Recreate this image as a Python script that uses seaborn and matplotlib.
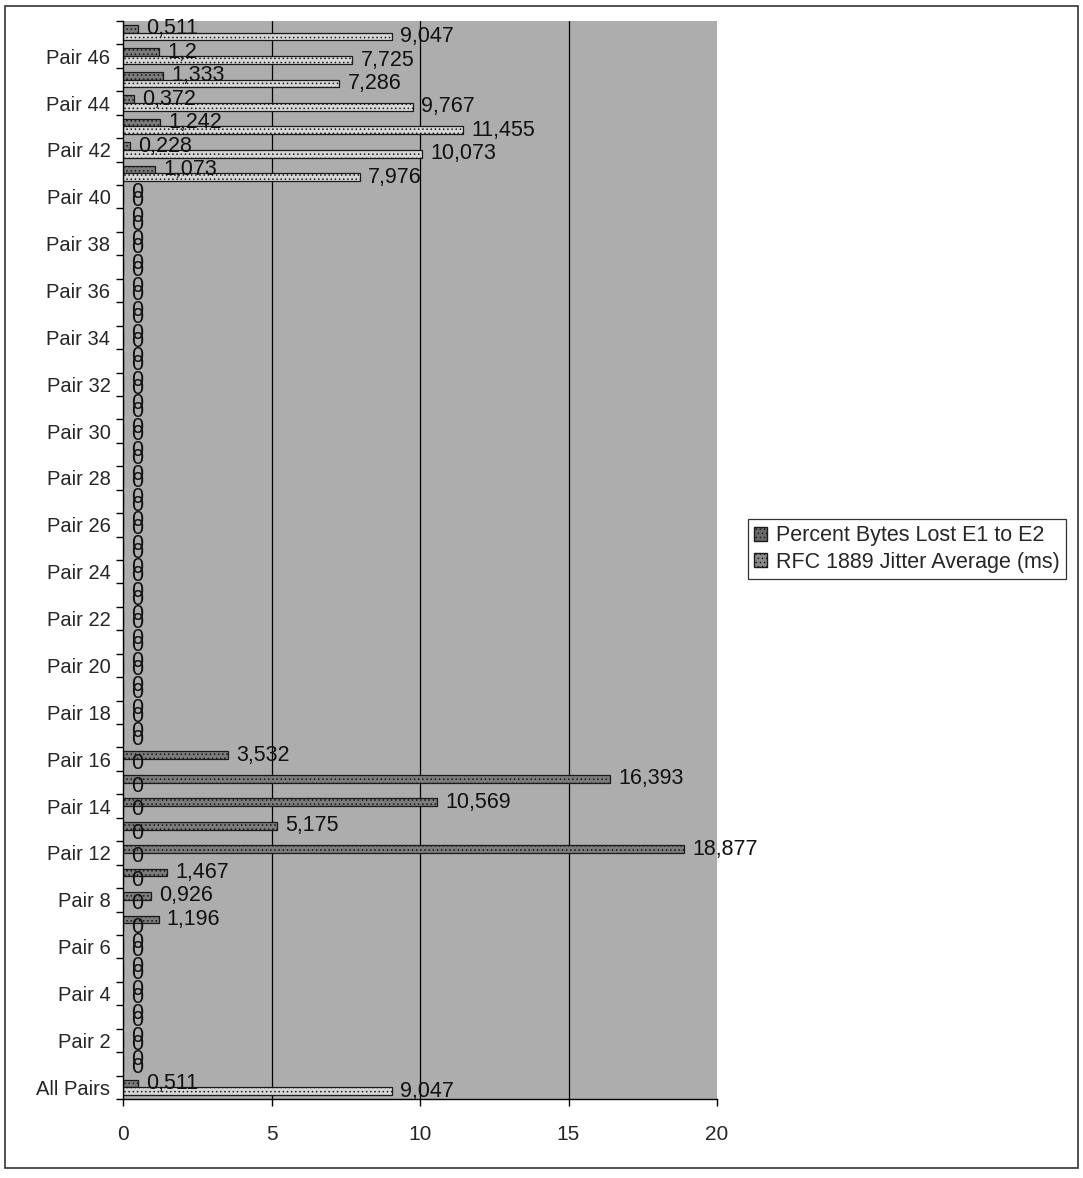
import matplotlib
matplotlib.use("Agg")
import matplotlib.pyplot as plt
from matplotlib.patches import Rectangle, Patch
import seaborn as sns
import pandas as pd

# Categories listed from bottom to top of the chart
pairs = ["All Pairs", "Pair 1", "Pair 2", "Pair 3", "Pair 4", "Pair 5", "Pair 6",
         "Pair 7", "Pair 8", "Pair 11"] + [f"Pair {i}" for i in range(12, 48)]

# Percent Bytes Lost E1 to E2 (same order as pairs)
bytes_lost = [9.047, 0, 0, 0, 0, 0, 0, 0, 0, 0,
              0, 0, 0, 0, 0,                      # Pair 12-16
              0, 0, 0, 0, 0, 0, 0, 0, 0, 0, 0, 0,  # Pair 17-28
              0, 0, 0, 0, 0, 0, 0, 0, 0, 0, 0, 0,  # Pair 29-40
              7.976, 10.073, 11.455, 9.767, 7.286, 7.725, 9.047]  # Pair 41-47

# RFC 1889 Jitter Average (ms)
jitter = [0.511, 0, 0, 0, 0, 0, 0, 1.196, 0.926, 1.467,
          18.877, 5.175, 10.569, 16.393, 3.532,
          0, 0, 0, 0, 0, 0, 0, 0, 0, 0, 0, 0,
          0, 0, 0, 0, 0, 0, 0, 0, 0, 0, 0, 0,
          1.073, 0.228, 1.242, 0.372, 1.333, 1.2, 0.511]

series_names = ["Percent Bytes Lost E1 to E2", "RFC 1889 Jitter Average (ms)"]
labeled_pairs = ["All Pairs"] + [f"Pair {i}" for i in (2, 4, 6, 8)] + \
                [f"Pair {i}" for i in range(12, 47, 2)]

df = pd.DataFrame({
    "Pair": pairs * 2,
    "Series": [series_names[0]] * len(pairs) + [series_names[1]] * len(pairs),
    "Value": bytes_lost + jitter,
})

sns.set_style("white")
plt.rcParams["font.family"] = ["Liberation Sans", "DejaVu Sans"]
plt.rcParams["hatch.linewidth"] = 0.6

fig = plt.figure(figsize=(10.83, 11.78), dpi=100)
ax = fig.add_axes([123 / 1083, 1 - 1099 / 1178, (717 - 123) / 1083, (1099 - 21) / 1178])

colors = {series_names[0]: "#d6d6d6", series_names[1]: "#7c7c7c"}
top_down = pairs[::-1]
sns.barplot(data=df, y="Pair", x="Value", hue="Series", order=top_down,
            hue_order=[series_names[1], series_names[0]], palette=colors,
            width=0.66, edgecolor="#1a1a1a", linewidth=0.9, legend=False,
            saturation=1, ax=ax)

for cont in ax.containers:
    for b in cont:
        b.set_hatch("....")
    labels = [f"{b.get_width():g}".replace(".", ",") for b in cont]
    ax.bar_label(cont, labels=labels, padding=6, fontsize=15.5, color="#111111")

ax.set_facecolor("#adadad")
ax.set_xlim(0, 20)
ax.set_ylim(len(pairs) - 0.5, -0.5)
ax.set_xticks([0, 5, 10, 15, 20])
ax.set_xticklabels(["0", "5", "10", "15", "20"], fontsize=15)
ax.tick_params(axis="x", length=5, width=1, pad=14, color="black", direction="out", bottom=True)

# category labels on every other pair, tick marks on category boundaries
ax.set_yticks([top_down.index(p) for p in labeled_pairs])
ax.set_yticklabels(labeled_pairs, fontsize=14.5)
ax.set_yticks([i + 0.5 for i in range(-1, len(pairs))], minor=True)
ax.tick_params(axis="y", which="major", length=0, pad=9)
ax.tick_params(axis="y", which="minor", length=5, width=1, color="black", left=True)

for xv in (5, 10, 15):
    ax.axvline(xv, color="black", linewidth=0.9, zorder=0.5)
ax.set_axisbelow(True)
ax.set_xlabel("")
ax.set_ylabel("")
for side in ("top", "right"):
    ax.spines[side].set_visible(False)
for side in ("left", "bottom"):
    ax.spines[side].set_color("black")
    ax.spines[side].set_linewidth(1)

handles = [Patch(facecolor="#6a6a6a", edgecolor="#1a1a1a", hatch="....", label=series_names[0]),
           Patch(facecolor="#8a8a8a", edgecolor="#1a1a1a", hatch="....", label=series_names[1])]
leg = fig.legend(handles=handles, loc="center left",
                 bbox_to_anchor=(748 / 1083, 1 - 549 / 1178), fontsize=15.5,
                 frameon=True, fancybox=False, edgecolor="black", handlelength=0.6,
                 handleheight=0.6, handletextpad=0.4, labelspacing=0.25,
                 borderpad=0.3, borderaxespad=0)
leg.get_frame().set_linewidth(0.9)

fig.patches.append(Rectangle((5 / 1083, 10 / 1178), (1078 - 5) / 1083, (1175 - 13) / 1178,
                             transform=fig.transFigure, fill=False,
                             edgecolor="#333333", linewidth=1.2))

fig.savefig("out.png", dpi=100, facecolor="white")
